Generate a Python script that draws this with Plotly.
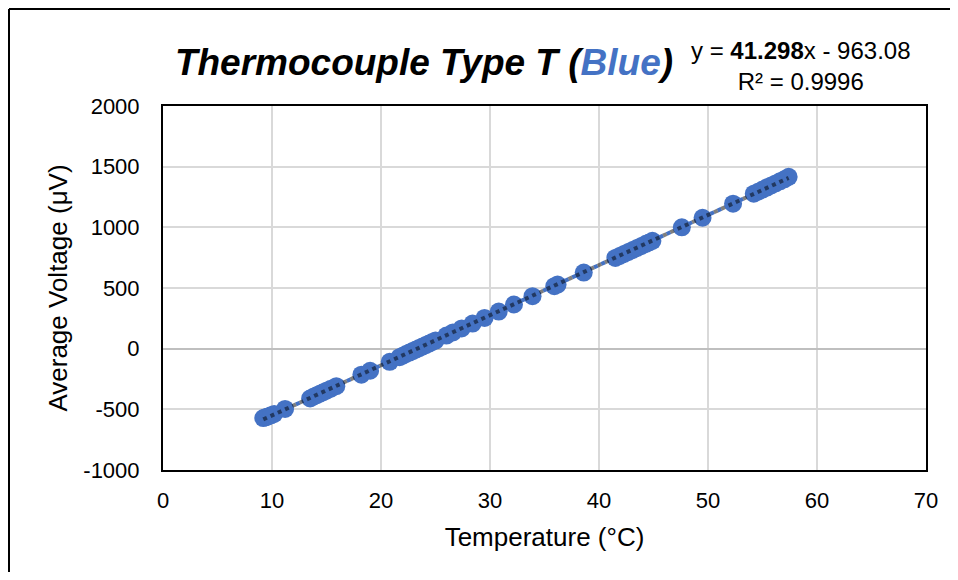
import plotly.graph_objects as go

# Data
temperature_c = [9.2, 9.4, 9.6, 9.9, 10.2, 11.2,
                 13.5, 13.8, 14.1, 14.4, 14.7, 15.0, 15.4, 15.9,
                 18.2, 19.0, 20.8,
                 21.7, 22.0, 22.3, 22.6, 22.9, 23.2, 23.5, 23.8, 24.1, 24.4, 24.7, 25.0,
                 26.0, 26.6, 27.4, 28.4, 29.5, 30.8, 32.2, 33.9, 35.9, 36.2, 38.6,
                 41.5, 41.9, 42.3, 42.7, 43.1, 43.5, 43.9, 44.3, 44.6, 44.9,
                 47.6, 49.5, 52.3,
                 54.2, 54.6, 55.0, 55.4, 55.8, 56.2, 56.6, 57.0, 57.4]
avg_voltage_uv = [-572, -566, -560, -549, -538, -497,
                  -410, -396, -383, -371, -359, -346, -330, -309,
                  -214, -182, -108,
                  -70, -58, -44, -32, -20, -7, 5, 17, 30, 42, 55, 67,
                  108, 134, 167, 207, 253, 306, 364, 433, 515, 528, 627,
                  748, 764, 781, 797, 814, 830, 847, 864, 876, 889,
                  1000, 1079, 1195,
                  1277, 1294, 1311, 1328, 1345, 1362, 1379, 1396, 1416]

# Trendline parameters shown on the chart
slope = 41.298
intercept = -963.08
r_squared = 0.9996

x_ticks = [0, 10, 20, 30, 40, 50, 60, 70]
y_ticks = [-1000, -500, 0, 500, 1000, 1500, 2000]

blue = "#4472C4"
x_min, x_max = min(temperature_c), max(temperature_c)
trend_x = [x_min, x_max]
trend_y = [slope * v + intercept for v in trend_x]

fig = go.Figure()
# blue part of the two-tone trendline (fills gaps between grey dashes)
fig.add_trace(go.Scatter(x=trend_x, y=trend_y, mode="lines",
                         line=dict(color=blue, width=4, dash="0px,4px,4px,0px"),
                         hoverinfo="skip", showlegend=False))
fig.add_trace(go.Scatter(x=temperature_c, y=avg_voltage_uv, mode="markers",
                         marker=dict(color=blue, size=18, line=dict(width=0)),
                         showlegend=False))
fig.add_trace(go.Scatter(x=trend_x, y=trend_y, mode="lines",
                         line=dict(color="rgba(0,0,0,0.5)", width=4, dash="4px,4px"),
                         hoverinfo="skip", showlegend=False))

font_family = "Liberation Sans, Arial, sans-serif"

# figure sized so that, with the page's 8px body margins, nothing overflows the window
W, H = 942, 564
# plot area in figure pixels
L, R, T, B = 155, 918, 98, 462
pw, ph = R - L, B - T

frame_left = (1 - L) / pw
frame_top = (B - 1) / ph
frame_right = (W - L) / pw
frame_bottom = (B - H) / ph

fig.update_layout(
    width=W, height=H,
    margin=dict(l=L, r=W - R, t=T, b=H - B),
    paper_bgcolor="white", plot_bgcolor="white",
    font=dict(family=font_family, color="black"),
    title=dict(
        text="<b><i>Thermocouple Type T (<span style='color:#4472C4'>Blue</span>)</i></b>",
        font=dict(size=37, family=font_family, color="black"),
        x=416 / W, xanchor="center", y=1 - 54 / H, yanchor="middle",
    ),
    xaxis=dict(
        range=[0, 70], tickvals=x_ticks, ticktext=[str(t) for t in x_ticks],
        showgrid=True, gridcolor="#d9d9d9", gridwidth=1.5,
        showline=True, linecolor="black", linewidth=2, mirror=True,
        ticks="", tickfont=dict(size=22), zeroline=False, ticklabelstandoff=10,
        title=dict(text="Temperature (°C)", font=dict(size=26), standoff=15),
    ),
    yaxis=dict(
        range=[-1000, 2000], tickvals=y_ticks, ticktext=[str(t) for t in y_ticks],
        showgrid=True, gridcolor="#d9d9d9", gridwidth=1.5,
        showline=True, linecolor="black", linewidth=2, mirror=True,
        zeroline=True, zerolinecolor="#bfbfbf", zerolinewidth=1.5,
        ticks="", tickfont=dict(size=22), ticklabelstandoff=17,
        title=dict(text="Average Voltage (μV)", font=dict(size=26), standoff=8),
    ),
    annotations=[dict(
        text=f"y = <b>{slope}</b>x - {abs(intercept):.2f}<br>R² = {r_squared}",
        xref="paper", yref="paper",
        x=(793 - L) / pw, y=(B - 58) / ph,
        xanchor="center", yanchor="middle", showarrow=False, align="center",
        font=dict(size=24, family=font_family, color="black"),
    )],
    shapes=[
        dict(type="line", xref="paper", yref="paper",
             x0=frame_left, x1=frame_left, y0=frame_bottom, y1=frame_top,
             line=dict(color="black", width=2), layer="below"),
        dict(type="line", xref="paper", yref="paper",
             x0=frame_left, x1=frame_right, y0=frame_top, y1=frame_top,
             line=dict(color="black", width=2), layer="below"),
    ],
)

fig.write_html("out.html")
